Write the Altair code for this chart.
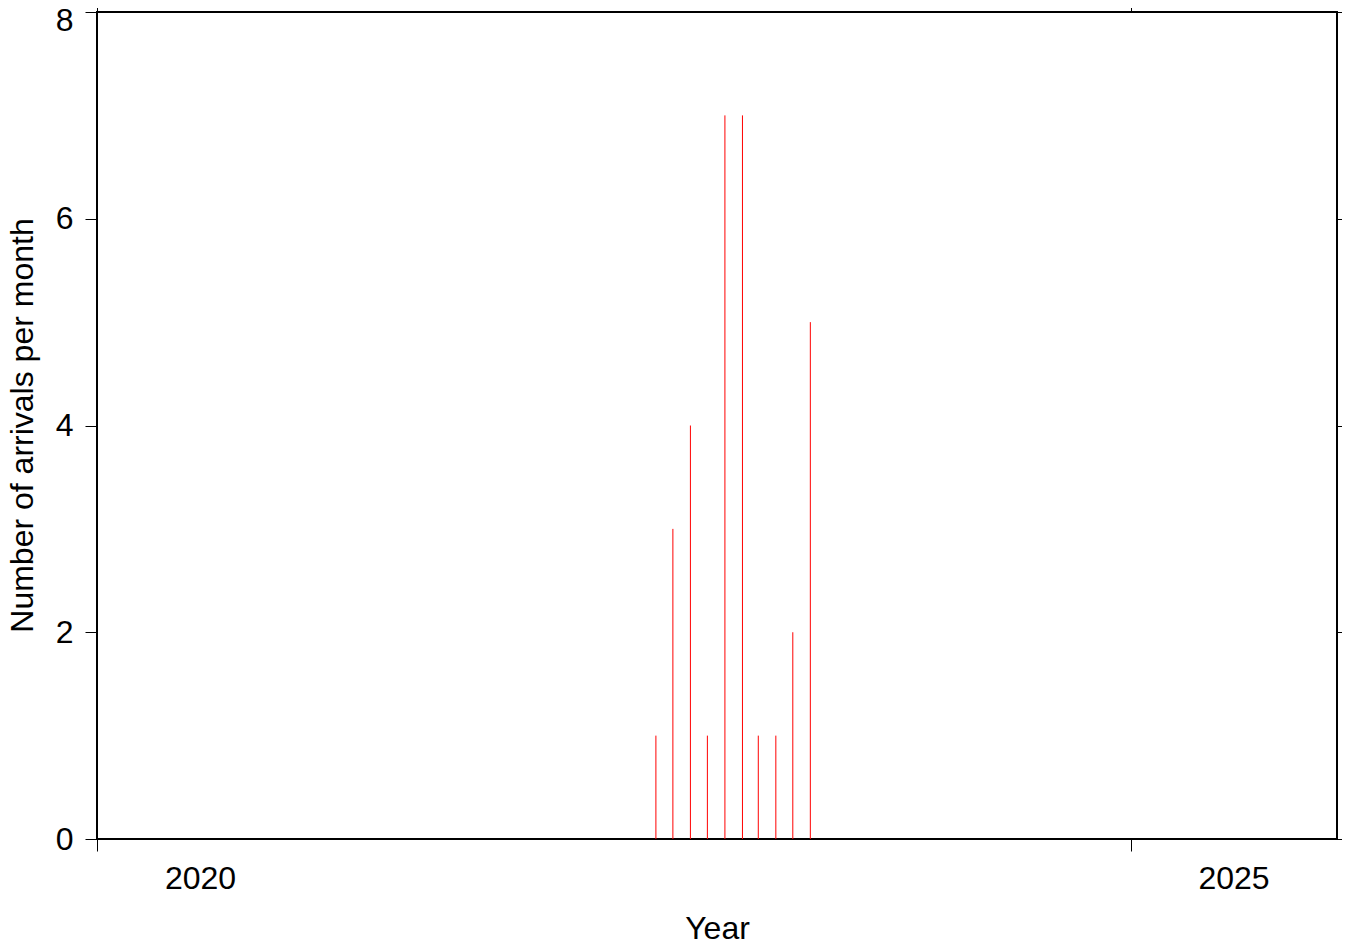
import altair as alt
import pandas as pd

# Monthly arrival counts (mid-month dates)
months = ["2022-09-15", "2022-10-15", "2022-11-15", "2022-12-15", "2023-01-15",
          "2023-02-15", "2023-03-15", "2023-04-15", "2023-05-15", "2023-06-15"]
counts = [1, 3, 4, 1, 7, 7, 1, 1, 2, 5]

x_domain = ["2020-01-01", "2026-01-01"]
x_ticks = ["2020-01-01", "2025-01-01"]
y_ticks = [0, 2, 4, 6, 8]

df = pd.DataFrame({"date": pd.to_datetime(months), "count": counts, "zero": [0] * len(counts)})

FONT = "Liberation Sans"
FS = 32

xscale = alt.Scale(domain=[pd.Timestamp(d).isoformat() for d in x_domain])
yscale = alt.Scale(domain=[0, 8], nice=False, zero=True)
x_tick_vals = [alt.DateTime(year=int(d[:4]), month=1, date=1) for d in x_ticks]

bars = alt.Chart(df).mark_rule(color="#ff0000", strokeWidth=1).encode(
    x=alt.X("date:T", scale=xscale, axis=alt.Axis(
        orient="bottom", values=x_tick_vals, format="%Y", title="Year",
        tickSize=12, tickWidth=1, tickColor="black", domain=False, grid=False,
        labelOffset=103, labelPadding=12, labelFlush=False, labelOverlap=False,
        labelFont=FONT, labelFontSize=FS, labelColor="black",
        titleFont=FONT, titleFontSize=FS, titleFontWeight="normal", titleColor="black",
        titleBaseline="alphabetic", titleY=99, titleX=620, titleAlign="center")),
    y=alt.Y("zero:Q", scale=yscale, axis=alt.Axis(
        orient="left", values=y_ticks, title="Number of arrivals per month",
        tickSize=12, tickWidth=1, tickColor="black", domain=False, grid=False,
        labelPadding=12, labelFont=FONT, labelFontSize=FS, labelColor="black",
        labelOffset={"condition": {"test": "datum.value == 8", "value": 8}, "value": 0},
        titleFont=FONT, titleFontSize=FS, titleFontWeight="normal", titleColor="black",
        titleAngle=270, titleBaseline="alphabetic", titleAlign="center",
        titleX=-65, titleY=413)),
    y2="count:Q",
)

frame_axes = alt.Chart(df).mark_rule(opacity=0).encode(
    x=alt.X("date:T", scale=xscale, axis=alt.Axis(
        orient="top", values=x_tick_vals, labels=False, title=None,
        tickSize=12, tickWidth=1, tickColor="black", domain=False, grid=False)),
    y=alt.Y("zero:Q", scale=yscale, axis=alt.Axis(
        orient="right", values=y_ticks, labels=False, title=None,
        tickSize=12, tickWidth=1, tickColor="black", domain=False, grid=False)),
)

chart = alt.layer(bars, frame_axes).resolve_axis(x="independent", y="independent").properties(
    width=1240, height=827,
    padding={"left": 89, "top": 4, "right": 5, "bottom": 102},
    autosize=alt.AutoSizeParams(type="none"),
).configure(background="white").configure_view(stroke="black", strokeWidth=2)

chart.save("out.html", embed_options={"renderer": "svg", "actions": False})
